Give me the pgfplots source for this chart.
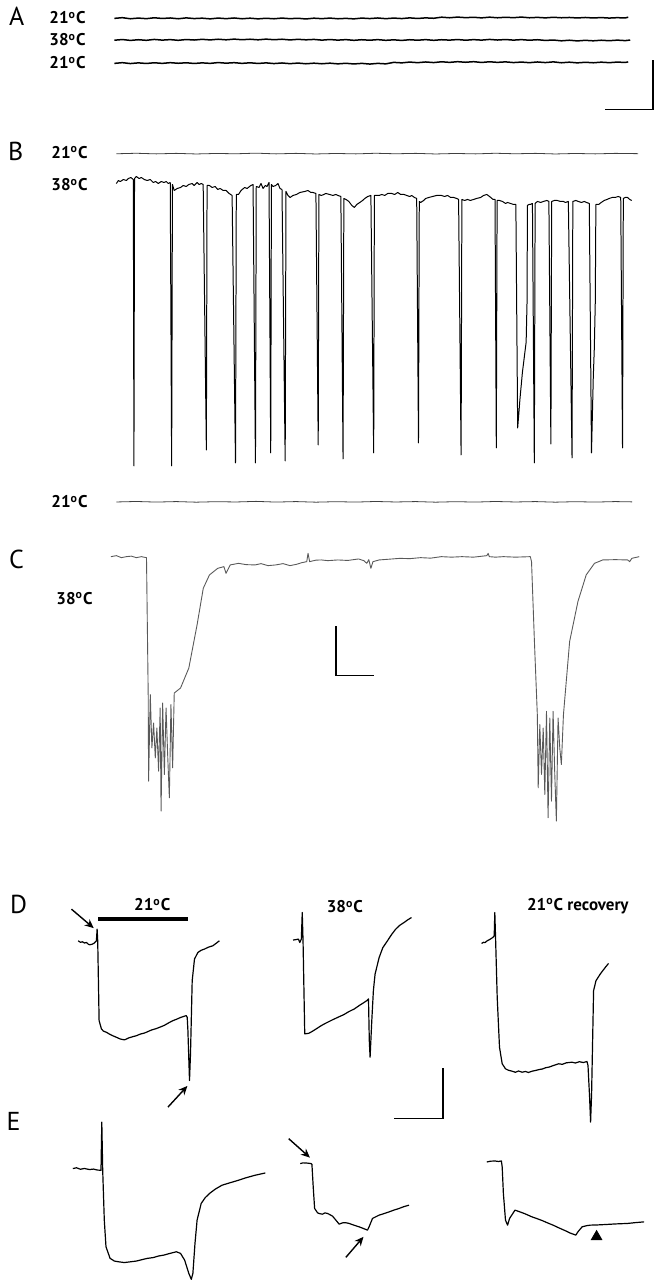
\documentclass[border=0pt]{standalone}
\usepackage{pgfplots}
\pgfplotsset{compat=1.18}
\usepackage{fontspec}
\setmainfont{PT Sans}
\usetikzlibrary{arrows.meta}
\newcommand{\dg}{\textsuperscript{o}}
\newcommand{\lab}{\fontsize{8.5}{10}\selectfont\bfseries}
\newcommand{\pan}{\fontsize{13}{15}\selectfont}
\begin{document}
\begin{tikzpicture}
\begin{axis}[
  scale only axis, width=325pt, height=640pt,
  xmin=0, xmax=650, ymin=0, ymax=1280, y dir=reverse,
  hide axis, clip=false,
  trace/.style={black, line width=0.45pt, line join=round},
  noisy/.style={black, line width=0.75pt, line join=round},
  bar/.style={black, line width=0.8pt},
  arr/.style={black, line width=0.7pt, -{Stealth[length=4.5pt,width=4pt]}},
]
\addplot[draw=none] coordinates {(0,0)(650,1280)};
% ---------------- Panel A ----------------
\addplot[noisy] coordinates {(108,15.5)(116,14.8)(124,15.9)(132,15.2)(140,15.8)(148,14.9)(156,15.6)(164,15.1)(172,15.9)(180,15.0)(188,15.7)(196,15.3)(204,16.0)(212,15.2)(220,15.8)(228,15.1)(236,15.9)(244,15.3)(252,16.0)(260,15.4)(268,15.9)(276,15.2)(284,15.8)(292,15.4)(300,16.1)(308,15.3)(316,15.8)(324,15.2)(332,15.9)(340,15.5)(348,16.0)(356,15.2)(364,15.7)(372,15.1)(380,15.8)(388,15.2)(396,15.7)(404,15.0)(412,15.6)(420,15.0)(428,15.4)(436,14.3)(444,14.9)(452,14.2)(460,14.8)(468,14.4)(476,15.0)(484,14.3)(492,14.9)(500,14.4)(508,14.8)(516,14.2)(524,14.9)(532,14.5)(540,15.0)(548,14.4)(556,14.9)(564,14.6)(572,15.1)(580,14.6)(588,15.1)(596,14.7)(604,15.2)(612,14.8)(620,15.1)(623,14.3)};
\addplot[noisy] coordinates {(108,37.4)(116,36.7)(124,37.6)(132,36.9)(140,37.5)(148,36.6)(156,37.3)(164,36.8)(172,37.5)(180,36.7)(188,37.2)(196,36.5)(204,37.1)(212,36.4)(220,37.0)(228,36.3)(236,36.9)(244,36.4)(252,37.0)(260,36.3)(268,36.9)(276,36.4)(284,37.1)(292,36.5)(300,37.0)(308,36.6)(316,37.3)(324,36.7)(332,37.3)(340,36.8)(348,37.5)(356,36.9)(364,37.4)(372,36.8)(380,37.5)(388,37.0)(396,37.6)(404,36.9)(412,37.4)(420,36.8)(428,37.5)(436,36.9)(444,37.3)(452,36.7)(460,37.4)(468,36.8)(476,37.3)(484,36.6)(492,37.2)(500,36.7)(508,37.3)(516,36.8)(524,37.4)(532,36.9)(540,37.6)(548,37.2)(556,38.0)(564,37.4)(572,38.1)(580,37.5)(588,38.0)(596,37.4)(604,37.9)(612,37.3)(620,37.8)(625,37.2)};
\addplot[noisy] coordinates {(108,60.6)(116,59.9)(124,60.8)(132,60.1)(140,60.7)(148,60.0)(156,60.6)(164,59.9)(172,60.5)(180,60.0)(188,60.7)(196,60.1)(204,60.6)(212,59.8)(220,60.4)(228,59.9)(236,60.6)(244,60.0)(252,60.7)(260,60.1)(268,60.8)(276,60.2)(284,60.9)(292,60.3)(300,61.0)(308,60.4)(316,61.0)(324,60.4)(332,61.1)(340,60.5)(348,61.2)(356,60.6)(364,61.3)(372,60.6)(380,61.1)(388,59.6)(396,60.1)(404,59.3)(412,59.9)(420,59.2)(428,59.8)(436,59.0)(444,59.6)(452,58.9)(460,59.5)(468,58.9)(476,59.7)(484,59.0)(492,59.6)(500,59.1)(508,59.8)(516,59.3)(524,59.9)(532,59.2)(540,59.8)(548,59.1)(556,60.0)(564,59.4)(572,60.1)(580,59.5)(588,60.0)(596,59.4)(604,59.9)(612,59.3)(620,59.7)(623,59.1)};
\addplot[bar] coordinates {(600,107)(648,107)(648,57)};
\node[anchor=center] at (axis cs:10,13) {\pan A};
\node[anchor=center] at (axis cs:61,15) {\lab 21\dg C};
\node[anchor=center] at (axis cs:61,37) {\lab 38\dg C};
\node[anchor=center] at (axis cs:61,60) {\lab 21\dg C};
% ---------------- Panel B ----------------
\addplot[black!75, line width=0.4pt] coordinates {(110,151.2)(130,150.7)(150,151.3)(170,150.8)(190,151.4)(210,150.9)(230,151.2)(250,150.6)(270,151.3)(290,150.8)(310,151.4)(330,150.9)(350,151.3)(370,150.7)(390,151.2)(410,150.8)(430,151.4)(450,150.9)(470,151.3)(490,150.7)(510,151.2)(530,150.8)(550,151.4)(570,150.9)(590,151.3)(610,150.8)(633,151.1)};
\addplot[trace, line width=0.5pt] coordinates {
(110,181)(112,178)(114,179)(117,177)(120,178)(122,176)(124.5,175)(127,177)(127.6,464)(128.2,176)(130,174)(132.8,176)(135,175)(138,177)(141,178)(144,177)(147,180)(149.4,179)(152,181)(155,179)(157.7,180)(160,179)(162,181)(164,180)(165.4,464)(166.2,182)(168,188)(171,186)(174.3,185)(177,183)(180,184)(182.6,182)(186,181)(188,183)(190.9,180)(193,182)(195,181)(197,182)(200.2,448)(200.9,183)(203.3,183)(206,185)(209,184)(211.6,187)(214,186)(217,188)(220,188)(223,191)(226,193)(229.4,461)(230.2,192)(232.4,192)(235,188)(238.6,185)(241,186)(244.8,183)(247,182)(249.4,461)(250.2,184)(253,185)(255,181)(257,186)(259.3,183)(261,184)(263,180)(264.7,451)(265.4,182)(267,184)(269.7,183)(272,181)(274,186)(276,187)(279.2,459)(280,189)(282,193)(284.2,195)(287,193)(290.5,192)(294,190)(298.8,189)(302,188)(305,190)(307,190)(310,191)(312.3,443)(313,192)(315.4,193)(318,192)(320,191)(323.7,192)(327,193)(330,192)(332,193)(335,194)(337.2,457)(338,196)(340.2,197)(343,199)(346,203)(348.5,205)(351,202)(354,200)(356.8,198)(359,196)(362,194)(365.1,193)(367.9,451)(368.6,193)(371,193)(373.4,193)(376,192)(379,193)(382,191)(385.9,191)(389,192)(392,190)(395,192)(398.3,192)(401,193)(404,194)(406,193)(408.7,195)(411,196)(412.8,441)(413.6,199)(415,200)(418,198)(420,196)(423.2,195)(427,194)(431,193)(435.7,193)(439,194)(442,193)(445,195)(448,195)(451,196)(453,197)(455.5,453)(456.3,197)(459,198)(462,197)(464.7,198)(468,197)(471,196)(475.1,195)(478,193)(481.3,192)(484,194)(487.6,197)(489.5,197)(490.8,446)(491.6,198)(493.8,198)(497,199)(500,201)(502,200)(505,201)(508,202)(510.4,202)(512.2,426)(513.5,410)(514.5,397)(517,370)(520.7,340)(521.6,300)(522,203)(523.5,202)(524.9,202)(527,201)(528.9,461)(529.7,201)(532,199)(535.3,200)(538,199)(541.5,198)(543.5,199)(545.5,442)(546.3,199)(549,198)(551.9,198)(555,199)(558,199)(560.2,200)(563,199)(566.7,456)(567.5,199)(570.5,198)(573,199)(576,200)(579,199)(581,200)(584,201)(586.2,451)(588,375)(589,347)(590,300)(590.6,202)(593.4,202)(596,200)(599,198)(601.7,197)(604,196)(607,195)(610,195)(613,194)(615.5,195)(617.3,446)(618.1,196)(620,195)(622.4,195)(624.5,197)(626.6,198)};
\addplot[black!75, line width=0.4pt] coordinates {(110,500.2)(130,499.7)(150,500.3)(170,499.8)(190,500.4)(210,499.9)(230,500.2)(250,499.6)(270,500.3)(290,499.8)(310,500.4)(330,499.9)(350,500.3)(370,499.7)(390,500.2)(410,499.8)(430,500.4)(450,499.9)(470,500.3)(490,499.7)(510,500.2)(530,499.8)(550,500.4)(570,499.9)(590,500.3)(610,499.8)(627,500.1)};
\node[anchor=center] at (axis cs:9,149) {\pan B};
\node[anchor=center] at (axis cs:63,150) {\lab 21\dg C};
\node[anchor=center] at (axis cs:63,182.5) {\lab 38\dg C};
\node[anchor=center] at (axis cs:63,500) {\lab 21\dg C};
% ---------------- Panel C ----------------
\addplot[black!65, line width=0.45pt, line join=round] coordinates {
(104.6,555)(110,554)(115,556)(120,555)(125,554.5)(130,556)(135,555)(140.2,556)(141.9,693.3)(142.3,780)(144,693.3)(145.6,746.7)(147.3,721.7)(149,756.7)(150.6,726.7)(152.3,770)(153.9,706.7)(154.8,810)(156.4,701.7)(158.1,773.3)(159.8,706.7)(161.4,753.3)(163.1,796.7)(164.7,703.3)(166.4,766.7)(168,691.7)(174.3,686.7)(182.6,666.7)(190.9,623.3)(197.1,586.7)(203.3,573.3)(211.6,566.7)(217.8,565)(219.9,571.7)(224.1,563.3)(232.4,561.7)(240,563)(249,563.3)(255,562)(262,564)(269.7,563.3)(277,562)(284,564)(290.5,562.7)(296,561)(300.8,560)(302.1,551.7)(303.7,560)(310,558.5)(315.4,558.3)(322,559)(332,558.3)(342,558.8)(352.7,557.3)(358,559)(361,561.7)(363,558)(365.1,566.7)(367.2,560)(373.4,558.3)(384,557.5)(394.2,556.7)(404,557)(414.9,556)(425,556.5)(435.7,555)(446,555.5)(456.4,555)(468,555.5)(481.3,554)(482.6,551.7)(483.8,555)(490,555.5)(497.9,555)(510,555.5)(524.9,555)(526.1,560)(529,640)(531.9,713.3)(532.8,786.7)(534.4,723.3)(536.1,773.3)(537.8,726.7)(539.4,793.3)(541.1,710)(542.7,816.7)(544.4,716.7)(546.1,800)(547.7,710)(549.4,773.3)(551,820)(552.7,716.7)(554.4,746.7)(556,763.3)(558.1,713.3)(564.3,640)(572.6,600)(580.9,573.3)(589.2,561.7)(597.5,558.3)(610,558)(622.4,558.3)(624.5,560)(626.6,556.7)(634,555)};
\addplot[bar] coordinates {(330,625)(330,674)(368.5,674)};
\node[anchor=center] at (axis cs:10,558) {\pan C};
\node[anchor=center] at (axis cs:68,597) {\lab 38\dg C};
% ---------------- Panel D ----------------
\addplot[black, line width=1.7pt] coordinates {(91.7,918.3)(181.7,918.3)};
\addplot[arr] coordinates {(65,908.3)(87.3,927.3)};
\addplot[arr] coordinates {(161.7,1106.7)(181.2,1085.5)};
\addplot[trace, line width=0.6pt] coordinates {(71.7,940)(74,941.5)(76,941)(78,942.2)(80,941.7)(82,943.5)(83.3,944)(85.5,943.5)(87.3,942.7)(90,940)(90.7,928.3)(91.3,940)(92.7,1020)(95,1028.3)(97,1030.5)(100,1031.7)(103,1033.5)(106,1035)(110,1036.7)(114,1038.5)(118.3,1039.3)(122,1037.5)(126.7,1036)(130,1035.2)(134,1033.5)(138,1032.5)(140,1031.7)(145,1029.5)(150,1028)(153.3,1026.7)(158,1024.8)(162,1022.5)(166.7,1020)(170,1018.8)(174,1017)(177,1016)(180,1015)(181,1016.7)(181.7,1030)(183.3,1080)(184.3,1053.3)(186,980)(188.3,958.3)(191.7,951.7)(195,949.5)(198.3,948.3)(202,946.5)(206.7,945)(210,942.5)(213.3,940)};
\addplot[trace, line width=0.6pt] coordinates {(287.1,939.3)(290,938.8)(292.5,938.3)(293.8,941.7)(295.4,938.3)(296.3,911.7)(297.1,940)(298.8,1033.3)(302.9,1032.7)(306,1031)(310,1028.5)(315.4,1025)(320,1022.5)(326,1019.5)(332,1016.7)(338,1014)(343,1011)(348.5,1008.3)(354,1004.5)(358,1002)(361,1000)(362.7,998.3)(363.5,1040)(364.3,1056.7)(366,1020)(367.6,990)(369.3,973.3)(373.4,956.7)(377,947)(381.7,940)(386,933.5)(390,928.3)(394,924.5)(398.3,921.7)(402,919)(405.8,916.7)};
\addplot[trace, line width=0.6pt] coordinates {(476,942.7)(478,941.5)(479.5,941.8)(481.7,940)(484,938.8)(487.3,936.7)(488.7,935)(489.3,911.7)(490,935)(491.7,996.7)(494,1046.7)(496.7,1063.3)(500,1068.3)(503,1069.8)(506.7,1070.7)(510,1071.8)(513,1070.5)(516.7,1071.7)(520,1071)(523,1072)(526.7,1070.7)(530,1070)(534,1069)(537,1068.5)(540,1067.3)(544,1066.5)(548,1065)(553.3,1063.3)(557,1063.8)(561,1062.3)(566.7,1061.7)(570,1062.5)(574,1061.2)(578,1062)(581.7,1061)(582.7,1065)(584.3,1096.7)(585.3,1121.7)(586.3,1093.3)(588.3,990)(590.7,980)(595,973.3)(600,966.7)(603.3,962.7)};
\addplot[bar] coordinates {(388.3,1118.3)(437.3,1118.3)(437.3,1068)};
\node[anchor=center] at (axis cs:12,904) {\pan D};
\node[anchor=center] at (axis cs:146,904) {\lab 21\dg C};
\node[anchor=center] at (axis cs:339,906) {\lab 38\dg C};
\node[anchor=center] at (axis cs:572.5,905) {\lab 21\dg C recovery};
% ---------------- Panel E ----------------
\addplot[trace, line width=0.6pt] coordinates {(66.4,1168.3)(70,1167.5)(74,1169)(78,1168.2)(83,1169.3)(87,1168.8)(91,1169.8)(94.6,1170)(95.4,1121.7)(96.3,1170)(97.9,1220)(99.6,1246.7)(103.7,1258.3)(108,1261)(112,1261.7)(118,1262.5)(124.5,1261.7)(130,1261)(136,1259.5)(141.1,1258.3)(147,1257.5)(152,1256)(157.7,1255)(163,1253.5)(170.1,1251.7)(174.3,1253.3)(178.4,1260)(182.6,1273.3)(185.1,1279.3)(186.7,1273.3)(188.8,1243.3)(190.9,1220)(195,1203.3)(199,1197.5)(203.3,1193.3)(209,1189)(215.8,1185)(224,1182.5)(232.4,1180)(240,1177.5)(249,1175)(259.3,1172.7)};
\addplot[arr] coordinates {(282.7,1138.3)(304,1157.3)};
\addplot[arr] coordinates {(340,1257.3)(357.7,1236.7)};
\addplot[trace, line width=0.6pt] coordinates {(294.3,1163.3)(297,1162.6)(300,1162.7)(303,1163)(305,1163.3)(306,1164)(307.3,1186.7)(308.7,1208.3)(311.7,1212.7)(314,1213.6)(316.7,1214)(319,1212.7)(321.7,1213.3)(324,1214.5)(326.7,1216)(330,1220)(333.3,1224)(336.7,1222.7)(340,1222.6)(343.3,1223.3)(348,1225)(353.3,1226.7)(358,1228.5)(361.7,1230)(363.3,1226.7)(366.7,1218.3)(373.3,1215)(378,1213.5)(383.3,1211.7)(388,1210)(393.3,1208.3)(398,1206.5)(403.3,1205)};
\addplot[trace, line width=0.6pt] coordinates {(481.3,1161.7)(485,1160.9)(489.6,1160.7)(493,1161.2)(495.9,1160.7)(496.7,1166.7)(497.9,1193.3)(500,1220)(502.1,1225)(504.1,1218.3)(509.5,1210)(514.5,1211.7)(520,1213.8)(526,1216.5)(531.1,1218.3)(537,1220.5)(542,1222.7)(547.7,1225)(553,1227.5)(560.2,1230.7)(565,1233)(570.5,1235)(572.6,1231.7)(576.8,1226.7)(581,1225.6)(585.1,1225)(592,1224.8)(601.7,1224.3)(610,1223.8)(622.4,1223.3)(630,1222.5)(639,1221.7)};
\addplot[only marks, mark=triangle*, mark size=3pt, black] coordinates {(591.3,1236.5)};
\node[anchor=center] at (axis cs:7,1121) {\pan E};
\end{axis}
\end{tikzpicture}
\end{document}
